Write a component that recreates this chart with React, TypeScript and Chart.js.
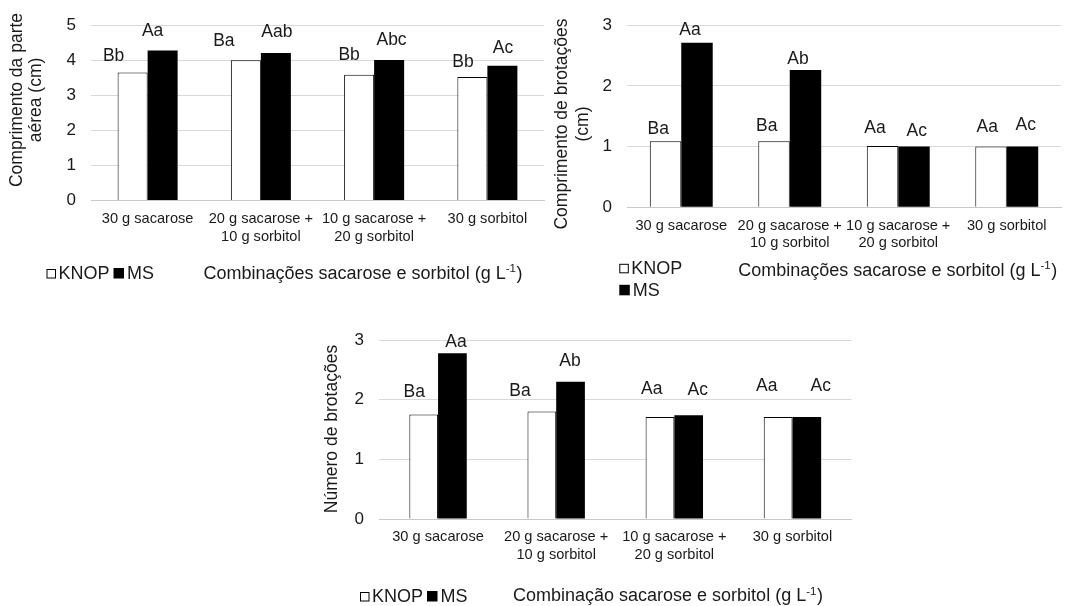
import React, { useEffect, useRef } from 'react';
import { Chart, registerables } from 'chart.js';
Chart.register(...registerables);

// ---------- DATA ----------
const categories: string[][] = [
  ['30 g sacarose'],
  ['20 g sacarose +', '10 g sorbitol'],
  ['10 g sacarose +', '20 g sorbitol'],
  ['30 g sorbitol'],
];
const seriesNames = ['KNOP', 'MS'];

const p1Knop = [3.65, 4.0, 3.59, 3.52];
const p1Ms = [4.28, 4.21, 4.01, 3.84];
const p1KnopLetters = ['Bb', 'Ba', 'Bb', 'Bb'];
const p1MsLetters = ['Aa', 'Aab', 'Abc', 'Ac'];
const p1YTitle = ['Comprimento da parte', 'aérea (cm)'];
const p1XTitle = 'Combinações sacarose e sorbitol (g L';
const p1Max = 5;

const p2Knop = [1.09, 1.09, 1.01, 1.0];
const p2Ms = [2.71, 2.26, 1.0, 1.0];
const p2KnopLetters = ['Ba', 'Ba', 'Aa', 'Aa'];
const p2MsLetters = ['Aa', 'Ab', 'Ac', 'Ac'];
const p2YTitle = ['Comprimento de brotações', '(cm)'];
const p2XTitle = 'Combinações sacarose e sorbitol (g L';
const p2Max = 3;

const p3Knop = [1.75, 1.8, 1.71, 1.71];
const p3Ms = [2.78, 2.3, 1.74, 1.71];
const p3KnopLetters = ['Ba', 'Ba', 'Aa', 'Aa'];
const p3MsLetters = ['Aa', 'Ab', 'Ac', 'Ac'];
const p3YTitle = ['Número de brotações'];
const p3XTitle = 'Combinação sacarose e sorbitol (g L';
const p3Max = 3;

const unitSup = '-1';
const unitClose = ')';

// ---------- STYLE / LAYOUT ----------
const W = 1067;
const H = 606;
const FONT = '"Liberation Sans", Arial, sans-serif';
const TEXT = '#1a1a1a';
const GRID = '#d9d9d9';
const YW = 40;
const XH = 50;

type Nudge = [number, number];
type Panel = {
  knop: number[]; ms: number[]; knopL: string[]; msL: string[];
  yTitle: string[]; xTitle: string; max: number;
  area: { l: number; t: number; r: number; b: number };
  cat: number; tickPadX: number;
  yTitleX: number[]; yTitleY: number;
  xTitleX: number; xTitleY: number;
  legend: { x: number; y: number; vertical: boolean; dy?: number };
  kNudge: Nudge[]; mNudge: Nudge[];
};

// label nudges: [dx from bar centre, height of label centre above bar top]
const panels: Panel[] = [
  {
    knop: p1Knop, ms: p1Ms, knopL: p1KnopLetters, msL: p1MsLetters,
    yTitle: p1YTitle, xTitle: p1XTitle, max: p1Max,
    area: { l: 91, t: 22.7, r: 544, b: 200.5 }, cat: 0.53, tickPadX: 10,
    yTitleX: [17.6, 36], yTitleY: 100,
    xTitleX: 203.5, xTitleY: 274,
    legend: { x: 46.5, y: 273.5, vertical: false },
    kNudge: [[-19, 16.7], [-22, 19.3], [-10, 19.8], [-9.4, 15.3]],
    mNudge: [[-10, 19.1], [1, 20.8], [2.4, 19.9], [0.6, 17.3]],
  },
  {
    knop: p2Knop, ms: p2Ms, knopL: p2KnopLetters, msL: p2MsLetters,
    yTitle: p2YTitle, xTitle: p2XTitle, max: p2Max,
    area: { l: 627, t: 17.3, r: 1061, b: 207.3 }, cat: 0.58, tickPadX: 9.5,
    yTitleX: [562.5, 583], yTitleY: 124,
    xTitleX: 738.3, xTitleY: 271,
    legend: { x: 619.3, y: 268.3, vertical: true, dy: 22 },
    kNudge: [[-7.2, 11.6], [-7.3, 15], [-7.5, 18.3], [-3.7, 19]],
    mNudge: [[-7, 12.4], [-7.5, 10.9], [2.7, 15.7], [3.2, 21.3]],
  },
  {
    knop: p3Knop, ms: p3Ms, knopL: p3KnopLetters, msL: p3MsLetters,
    yTitle: p3YTitle, xTitle: p3XTitle, max: p3Max,
    area: { l: 379, t: 340, r: 851.5, b: 519 }, cat: 0.486, tickPadX: 9.5,
    yTitleX: [331.7], yTitleY: 429,
    xTitleX: 513, xTitleY: 596.5,
    legend: { x: 360, y: 596.5, vertical: false },
    kNudge: [[-9.4, 22.9], [-21.9, 20.6], [-8.3, 27.7], [-11.4, 30.3]],
    mNudge: [[3.6, 11.4], [-0.6, 20.1], [9, 25.2], [13.9, 30.3]],
  },
];

function makePlugin(p: Panel) {
  return {
    id: 'extras',
    afterDraw(chart: any) {
      const ctx = chart.ctx as CanvasRenderingContext2D;
      ctx.save();
      ctx.fillStyle = TEXT;
      // data letters
      ctx.font = `17.5px ${FONT}`;
      ctx.textAlign = 'center';
      ctx.textBaseline = 'middle';
      const mk = chart.getDatasetMeta(0);
      const mm = chart.getDatasetMeta(1);
      mk.data.forEach((el: any, i: number) => {
        const n = p.kNudge[i];
        ctx.fillText(p.knopL[i], el.x + n[0], el.y - n[1]);
      });
      mm.data.forEach((el: any, i: number) => {
        const n = p.mNudge[i];
        ctx.fillText(p.msL[i], el.x + n[0], el.y - n[1]);
      });
      // y title
      p.yTitle.forEach((line, i) => {
        ctx.save();
        ctx.translate(p.yTitleX[i], p.yTitleY);
        ctx.rotate(-Math.PI / 2);
        ctx.font = `17.5px ${FONT}`;
        ctx.textAlign = 'center';
        ctx.textBaseline = 'middle';
        ctx.fillText(line, 0, 0);
        ctx.restore();
      });
      // x title with superscript
      ctx.textAlign = 'left';
      ctx.textBaseline = 'middle';
      ctx.font = `18px ${FONT}`;
      let x = p.xTitleX;
      ctx.fillText(p.xTitle, x, p.xTitleY);
      x += ctx.measureText(p.xTitle).width;
      ctx.font = `11.5px ${FONT}`;
      ctx.fillText(unitSup, x, p.xTitleY - 5);
      x += ctx.measureText(unitSup).width + 0.5;
      ctx.font = `18px ${FONT}`;
      ctx.fillText(unitClose, x, p.xTitleY);
      // legend
      ctx.font = `18px ${FONT}`;
      const drawItem = (bx: number, by: number, filled: boolean, label: string) => {
        let w: number;
        if (filled) {
          w = 10.5;
          ctx.fillStyle = '#000';
          ctx.fillRect(bx, by - 5.5, w, 10.5);
        } else {
          w = 9;
          ctx.fillStyle = '#fff';
          ctx.fillRect(bx, by - 4.5, w, 9);
          ctx.strokeStyle = '#000';
          ctx.lineWidth = 1;
          ctx.strokeRect(bx + 0.5, by - 4.5 + 0.5, 8.5, 8.5);
        }
        ctx.fillStyle = TEXT;
        ctx.fillText(label, bx + w + 3, by + 1);
        return bx + w + 3 + ctx.measureText(label).width;
      };
      if (p.legend.vertical) {
        drawItem(p.legend.x, p.legend.y, false, seriesNames[0]);
        drawItem(p.legend.x, p.legend.y + (p.legend.dy || 22), true, seriesNames[1]);
      } else {
        const nx = drawItem(p.legend.x, p.legend.y, false, seriesNames[0]);
        drawItem(nx + 4, p.legend.y, true, seriesNames[1]);
      }
      ctx.restore();
    },
  };
}

function PanelChart({ p }: { p: Panel }) {
  const ref = useRef<HTMLCanvasElement | null>(null);
  useEffect(() => {
    if (!ref.current) return;
    const chart = new Chart(ref.current, {
      type: 'bar',
      data: {
        labels: categories,
        datasets: [
          {
            label: seriesNames[0],
            data: p.knop,
            backgroundColor: '#ffffff',
            borderColor: '#000000',
            borderWidth: 1,
            barPercentage: 1,
            categoryPercentage: p.cat,
          },
          {
            label: seriesNames[1],
            data: p.ms,
            backgroundColor: '#000000',
            borderColor: '#000000',
            borderWidth: 0,
            barPercentage: 1,
            categoryPercentage: p.cat,
          },
        ],
      },
      options: {
        responsive: false,
        animation: false,
        events: [],
        layout: {
          padding: {
            left: p.area.l - YW,
            right: W - p.area.r,
            top: p.area.t,
            bottom: H - p.area.b - XH,
          },
        },
        plugins: { legend: { display: false }, tooltip: { enabled: false }, title: { display: false } },
        scales: {
          x: {
            grid: { display: false, drawTicks: false },
            border: { display: true, color: '#c8c8c8', width: 1 },
            ticks: {
              color: TEXT,
              font: { family: FONT, size: 14.6 },
              padding: p.tickPadX,
              maxRotation: 0,
              minRotation: 0,
              autoSkip: false,
            },
            afterFit: (s: any) => { s.height = XH; },
          },
          y: {
            min: 0,
            max: p.max,
            grid: { color: GRID, drawTicks: false, lineWidth: 1 },
            border: { display: false },
            ticks: {
              stepSize: 1,
              color: TEXT,
              font: { family: FONT, size: 17 },
              padding: 15,
            },
            afterFit: (s: any) => { s.width = YW; },
          },
        },
      },
      plugins: [makePlugin(p)],
    } as any);
    return () => chart.destroy();
  }, [p]);
  return (
    <canvas
      ref={ref}
      width={W}
      height={H}
      style={{ position: 'absolute', left: 0, top: 0, width: W, height: H }}
    />
  );
}

export default function App() {
  return (
    <div style={{ position: 'fixed', left: 0, top: 0, width: W, height: H, background: '#fff', overflow: 'hidden' }}>
      {panels.map((p, i) => (
        <PanelChart key={i} p={p} />
      ))}
    </div>
  );
}
